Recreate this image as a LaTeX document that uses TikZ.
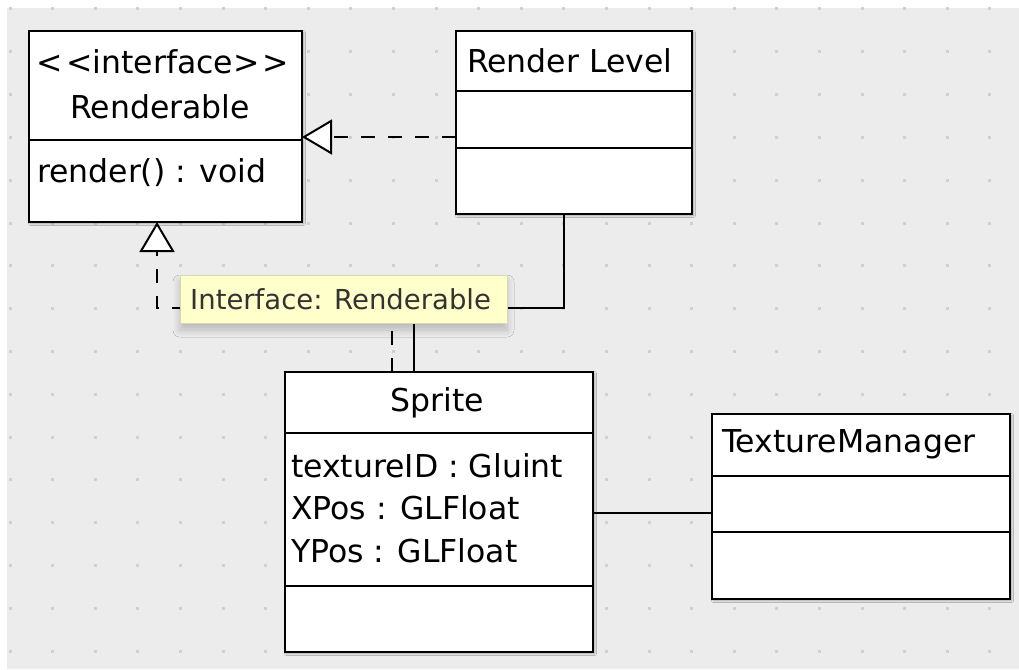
\documentclass[tikz,border=0pt]{standalone}
\usepackage{fontspec}
\setmainfont{DejaVu Sans}
\usetikzlibrary{arrows.meta,shadows.blur}
\definecolor{canvas}{HTML}{ECECEC}
\definecolor{griddot}{HTML}{D0D0D0}
\definecolor{tipfill}{HTML}{FFFFCC}
\definecolor{tipdraw}{HTML}{D8D8B0}
\definecolor{tiptext}{HTML}{333333}
\begin{document}
\begin{tikzpicture}[x=1pt,y=-1pt,
  umlbox/.style={draw=black, line width=2.2pt, fill=white, inner sep=0pt, outer sep=0pt,
    anchor=north west, rectangle,
    blur shadow={shadow xshift=1.5pt, shadow yshift=-1.5pt, shadow blur radius=2pt, shadow opacity=35}},
  divider/.style={draw=black, line width=2.2pt},
  umltext/.style={inner sep=0pt, outer sep=0pt, font=\fontsize{31.5}{37}\selectfont},
  conn/.style={draw=black, line width=2pt},
  realize/.style={conn, dash pattern=on 14pt off 13pt,
    -{Triangle[length=30pt, width=35pt, fill=white, line width=2pt]}},
  tooltip/.style={draw=tipdraw, line width=1pt, fill=tipfill, inner sep=0pt, outer sep=0pt,
    anchor=north west, minimum width=327pt, minimum height=48pt,
    blur shadow={shadow xshift=0pt, shadow yshift=-7pt, shadow blur radius=7pt,
      shadow blur steps=12, shadow opacity=22}},
]
\useasboundingbox (0,0) rectangle (1019,669);
\fill[white] (0,0) rectangle (1019,669);
\fill[canvas] (7,8) rectangle (1019,669);
\foreach \i in {0,...,23}{
  \foreach \j in {0,...,15}{
    \fill[griddot] ({10+42.6*\i-1.5},{9+42.8*\j-1.5}) rectangle ++(3,3);
  }
}

% coordinates for connector bends
\coordinate (sbend1) at (392,308);
\coordinate (sbend2) at (157,308);
\coordinate (abend1) at (414,308);
\coordinate (abend2) at (564,308);

% boxes
\node[umlbox, minimum width=273pt, minimum height=191pt] (renderable) at (29,31) {};
\node[umlbox, minimum width=236pt, minimum height=183pt] (rlevel) at (456,31) {};
\node[umlbox, minimum width=308pt, minimum height=280pt] (sprite) at (285,372) {};
\node[umlbox, minimum width=298pt, minimum height=185pt] (texman) at (712,414) {};

% dividers
\draw[divider] (renderable.west |- 0,140) -- (renderable.east |- 0,140);
\draw[divider] (rlevel.west |- 0,91) -- (rlevel.east |- 0,91);
\draw[divider] (rlevel.west |- 0,148) -- (rlevel.east |- 0,148);
\draw[divider] (sprite.west |- 0,433) -- (sprite.east |- 0,433);
\draw[divider] (sprite.west |- 0,586) -- (sprite.east |- 0,586);
\draw[divider] (texman.west |- 0,476) -- (texman.east |- 0,476);
\draw[divider] (texman.west |- 0,532) -- (texman.east |- 0,532);

% texts
\node[umltext] (rstereo) at (163,62) {<\kern3pt<interface>\kern3pt>};
\node[umltext] (rname) at (160,107) {Renderable};
\node[umltext, anchor=west] (rop) at (37,173) {render() : void};
\node[umltext, anchor=west] (rlname) at (467,61) {Render Level};
\node[umltext] (sname) at (437,403) {Sprite};
\node[umltext, anchor=west] (sattr1) at (291,466) {textureID : Gluint};
\node[umltext, anchor=west] (sattr2) at (291,508) {XPos : GLFloat};
\node[umltext, anchor=west] (sattr3) at (291,551) {YPos : GLFloat};
\node[umltext, anchor=west] (tmname) at (722,444) {TextureManager};

% connectors
\draw[realize] (rlevel.west |- 0,137) -- (renderable.east |- 0,137);
\draw[realize] (sprite.north -| sbend1) -- (sbend1) -- (sbend2) -- (renderable.south -| sbend2);
\draw[conn] (sprite.north -| abend1) -- (abend1) -- (abend2) -- (rlevel.south -| abend2);
\draw[conn] (sprite.east |- 0,513) -- (texman.west |- 0,513);

% tooltip
\node[tooltip] (tip) at (180,275) {};
\node[anchor=west, inner sep=0pt, text=tiptext, font=\fontsize{27.5}{33}\selectfont] (tiptext) at (190,299) {Interface: Renderable};
\end{tikzpicture}
\end{document}
